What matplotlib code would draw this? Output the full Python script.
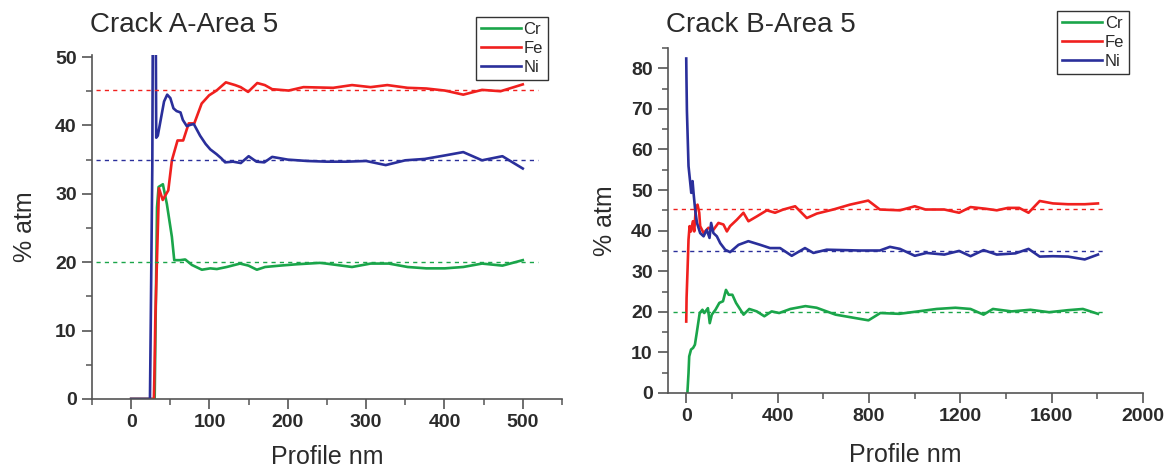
import numpy as np
import matplotlib
matplotlib.use('Agg')
import matplotlib.pyplot as plt
from matplotlib.ticker import MultipleLocator

# ---- Crack A - Area 5 ----
a_cr_x = [0, 30, 33, 35, 40.5, 45.6, 52, 55, 62.6, 69, 77.5, 90.3, 101, 109.4, 122, 139, 149.8, 160.5,
          171, 190, 211.6, 241, 249, 282, 305.7, 329, 353, 376.8, 400.5, 424, 448, 474, 500]
a_cr_y = [0, 0, 28, 31, 31.4, 28.5, 23.7, 20.3, 20.3, 20.4, 19.6, 18.9, 19.1, 19.0, 19.3, 19.8, 19.5, 18.9,
          19.3, 19.5, 19.7, 19.9, 19.8, 19.3, 19.8, 19.8, 19.3, 19.1, 19.1, 19.3, 19.8, 19.5, 20.3]

a_fe_x = [0, 29, 29.9, 30.8, 34.6, 35.5, 40.3, 47.4, 52, 59.2, 66.4, 73.5, 80.6, 90, 99.5, 109, 120.9,
          132.7, 139.8, 149.3, 161, 170.6, 180, 201, 220, 258, 282, 305.7, 327, 353, 376.8, 400.5, 424,
          448, 471.6, 500]
a_fe_y = [0, 0, 4.7, 11.5, 27.1, 30.8, 29.1, 30.5, 34.9, 37.8, 37.8, 40.3, 40.3, 43.2, 44.4, 45.1, 46.3,
          45.9, 45.6, 44.9, 46.2, 45.9, 45.3, 45.1, 45.6, 45.5, 45.9, 45.6, 45.9, 45.5, 45.4, 45.1, 44.5,
          45.2, 45.0, 46.0]

a_ni_x = [0, 24, 25, 27, 28, 31, 32, 34, 38, 42, 46, 50, 54, 58, 63, 66, 71, 76, 80, 88, 95, 101, 109,
          115, 120, 130, 140, 150, 160, 170, 180, 200, 225, 250, 275, 300, 325, 350, 375, 400, 424, 448,
          474, 500]
a_ni_y = [0, 0, 11, 34, 65, 65, 38.2, 38.5, 41, 43.5, 44.5, 44, 42.5, 42.1, 41.9, 40.8, 39.9, 40.1, 40.2,
          38.5, 37.3, 36.5, 35.8, 35.2, 34.6, 34.7, 34.5, 35.5, 34.7, 34.6, 35.4, 35.0, 34.8, 34.7, 34.7,
          34.8, 34.2, 34.9, 35.1, 35.6, 36.1, 34.9, 35.5, 33.7]

a_ref = [20.0, 45.2, 35.0]   # Cr, Fe, Ni averages
a_ref_x = [-45, 520]

# ---- Crack B - Area 5 ----
b_cr_x = [5, 10, 13, 21, 30, 38, 46, 59, 71, 79, 95, 103, 112, 128, 145, 161, 174, 186, 202, 218, 251,
          276, 309, 342, 374, 407, 456, 522, 571, 654, 736, 798, 850, 933, 1015, 1097, 1179, 1245, 1302,
          1343, 1425, 1507, 1589, 1672, 1737, 1803]
b_cr_y = [0, 4.9, 9, 10.7, 11.1, 11.9, 14.8, 19.7, 20.5, 19.7, 20.9, 17.2, 19.3, 20.5, 22.2, 22.6, 25.4,
          24.2, 24.2, 22.2, 19.3, 20.7, 20.1, 18.9, 20.1, 19.7, 20.7, 21.4, 21.0, 19.3, 18.5, 17.9, 19.7,
          19.5, 20.1, 20.7, 21.0, 20.7, 19.3, 20.7, 20.1, 20.5, 19.9, 20.4, 20.7, 19.5]

b_fe_x = [0, 1.5, 6, 10, 14.6, 20.5, 29, 35, 42, 49.5, 57, 61, 76, 97.5, 119, 141, 163, 178, 192, 222,
          250.5, 272.5, 309, 353, 389, 425, 477, 528, 572, 644, 717, 797, 848, 936, 1001, 1048, 1130,
          1195, 1245, 1310, 1360, 1409, 1458, 1499, 1548, 1606, 1672, 1745, 1803]
b_fe_y = [17.6, 23.4, 30.8, 37.8, 41.1, 39.8, 42.3, 39.8, 45.6, 46.4, 44.4, 41.1, 39.4, 40.7, 40.2, 41.9,
          41.5, 39.8, 41.1, 42.7, 44.4, 42.3, 43.5, 45.0, 44.4, 45.2, 46.0, 43.1, 44.2, 45.2, 46.4, 47.4,
          45.2, 45.0, 46.0, 45.2, 45.2, 44.4, 45.8, 45.4, 45.0, 45.6, 45.6, 44.4, 47.3, 46.7, 46.5, 46.5,
          46.7]

b_ni_x = [0, 1, 3, 10, 17.5, 22, 27.7, 32, 39, 47, 61, 76, 90, 102, 109, 119, 134, 149, 170.5, 192, 229,
          272, 324, 367, 411, 462, 520, 557, 615, 761, 848, 892, 936, 1001, 1052, 1130, 1195, 1245, 1302,
          1360, 1442, 1499, 1548, 1606, 1672, 1745, 1803]
b_ni_y = [82.4, 77.5, 69.5, 55.9, 51.8, 49.3, 52.2, 49.3, 45.2, 41.9, 39.4, 38.6, 40.2, 38.2, 41.9, 39.4,
          38.6, 36.9, 35.3, 34.7, 36.5, 37.4, 36.5, 35.7, 35.7, 33.8, 35.7, 34.5, 35.3, 35.1, 35.1, 36.0,
          35.5, 33.8, 34.5, 34.1, 35.0, 33.7, 35.2, 34.1, 34.4, 35.5, 33.6, 33.7, 33.6, 32.9, 34.1]

b_ref = [20.0, 45.3, 35.0]
b_ref_x = [-60, 1840]

names = ['Cr', 'Fe', 'Ni']
colors = ['#1aa54a', '#f0201e', '#2a2f9b']
text_col = '#2b2b2b'

plt.rcParams['font.family'] = ['Liberation Sans', 'DejaVu Sans']

fig = plt.figure(figsize=(11.69, 4.72), dpi=100)
ax1 = fig.add_axes([0.0787, 0.1547, 0.402, 0.7288])
ax2 = fig.add_axes([0.5714, 0.1674, 0.4063, 0.731])


def style(ax, title, tx, ty, xl_y, yl_x, bbox):
    for s in ['top', 'right']:
        ax.spines[s].set_visible(False)
    for s in ['left', 'bottom']:
        ax.spines[s].set_color('#555555')
        ax.spines[s].set_linewidth(1.2)
    ax.tick_params(which='major', direction='out', length=7, width=1.2, color='#555555',
                   labelsize=14, labelcolor=text_col, pad=4)
    ax.tick_params(which='minor', direction='out', length=4, width=1.1, color='#555555')
    for lab in ax.get_xticklabels() + ax.get_yticklabels():
        lab.set_fontweight('bold')
    ax.set_xlabel('Profile nm', fontsize=18, color=text_col)
    ax.set_ylabel('% atm', fontsize=18, color=text_col)
    ax.xaxis.set_label_coords(0.5, xl_y)
    ax.yaxis.set_label_coords(yl_x, 0.5)
    ax.text(tx, ty, title, transform=ax.transAxes, fontsize=20, color=text_col,
            ha='left', va='baseline')
    leg = ax.legend(loc='upper right', bbox_to_anchor=bbox, bbox_transform=fig.transFigure,
                    fontsize=12, handlelength=2.4, handletextpad=0.15, labelspacing=0.25,
                    borderpad=0.3, borderaxespad=0, fancybox=False, framealpha=1)
    leg.get_frame().set_edgecolor('#333333')
    leg.get_frame().set_linewidth(1.0)
    for t in leg.get_texts():
        t.set_color(text_col)


# left panel
for xs, ys, nm, c in zip([a_cr_x, a_fe_x, a_ni_x], [a_cr_y, a_fe_y, a_ni_y], names, colors):
    ax1.plot(xs, ys, color=c, lw=1.9, label=nm)
for r, c in zip(a_ref, colors):
    ax1.plot(a_ref_x, [r, r], color=c, lw=1.0, ls=(0, (3, 3)))
ax1.set_xlim(-50, 550)
ax1.set_ylim(0, 50.3)
ax1.xaxis.set_major_locator(MultipleLocator(100))
ax1.xaxis.set_minor_locator(MultipleLocator(50))
ax1.yaxis.set_major_locator(MultipleLocator(10))
ax1.yaxis.set_minor_locator(MultipleLocator(5))
ax1.set_xticks([0, 100, 200, 300, 400, 500])
style(ax1, 'Crack A-Area 5', -0.004, 1.067, -0.135, -0.118, (548 / 1169, 1 - 17 / 472))

# right panel
for xs, ys, nm, c in zip([b_cr_x, b_fe_x, b_ni_x], [b_cr_y, b_fe_y, b_ni_y], names, colors):
    ax2.plot(xs, ys, color=c, lw=1.9, label=nm)
for r, c in zip(b_ref, colors):
    ax2.plot(b_ref_x, [r, r], color=c, lw=1.0, ls=(0, (3, 3)))
ax2.set_xlim(-80, 2000)
ax2.set_ylim(0, 85)
ax2.set_xticks([0, 400, 800, 1200, 1600, 2000])
ax2.xaxis.set_minor_locator(MultipleLocator(200))
ax2.yaxis.set_major_locator(MultipleLocator(10))
ax2.yaxis.set_minor_locator(MultipleLocator(5))
style(ax2, 'Crack B-Area 5', -0.004, 1.047, -0.145, -0.108, (1129 / 1169, 1 - 11 / 472))

fig.savefig('out.png', dpi=100)
